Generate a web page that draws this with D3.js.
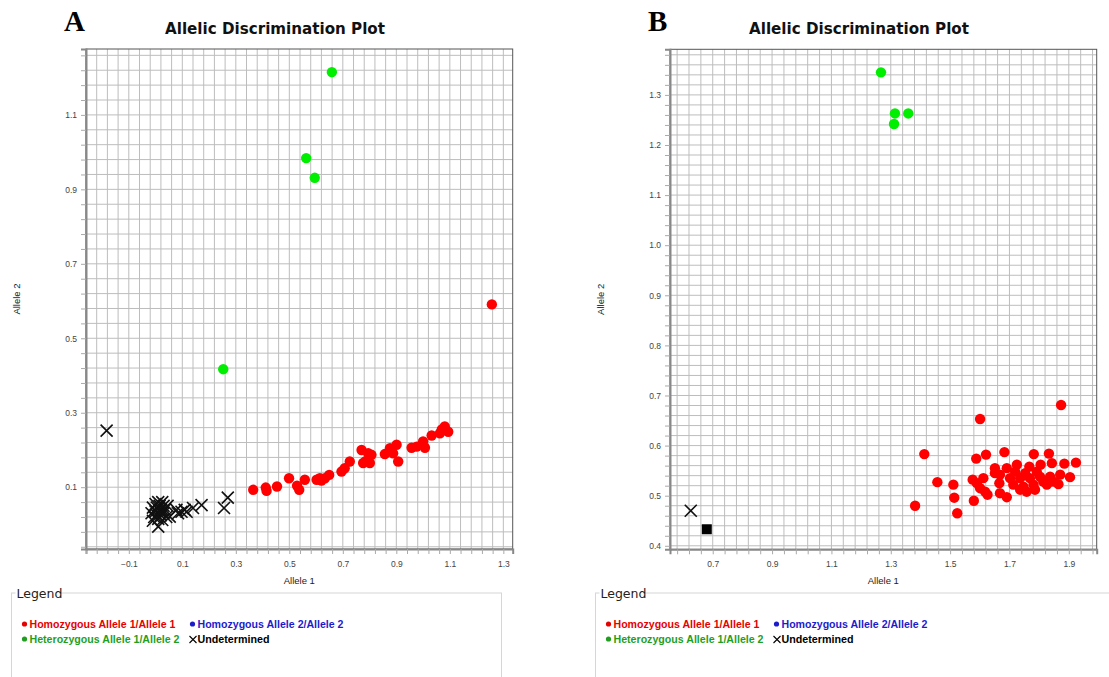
<!DOCTYPE html>
<html>
<head>
<meta charset="utf-8">
<title>Allelic Discrimination Plot</title>
<script src="https://d3js.org/d3.v7.min.js"></script>
<style>
  body { margin: 0; background: #fff; }
  .tick text { font-family: "Liberation Sans", Arial, sans-serif; font-size: 8.5px; fill: #444; }
  .axis-title { font-family: "Liberation Sans", Arial, sans-serif; font-size: 9.5px; fill: #222; }
  .plot-title { font-family: "DejaVu Sans", sans-serif; font-weight: bold; font-size: 16px; fill: #111; }
  .panel-letter { font-family: "Liberation Serif", "Times New Roman", serif; font-weight: bold; font-size: 29px; fill: #000; }
  .legend-title { font-family: "DejaVu Sans", sans-serif; font-size: 12.5px; fill: #222; }
  .legend-item { font-family: "Liberation Sans", Arial, sans-serif; font-weight: bold; font-size: 10.5px; }
</style>
</head>
<body>
<div id="chart"></div>
<script>
// ---- data ----
// panel A
const aHomo1 = [[0.365,0.093],[0.412,0.099],[0.415,0.090],[0.454,0.102],[0.499,0.124],[0.529,0.104],
  [0.537,0.093],[0.558,0.120],[0.602,0.120],[0.614,0.124],[0.620,0.118],[0.633,0.124],[0.649,0.133],
  [0.695,0.142],[0.707,0.151],[0.726,0.169],[0.770,0.200],[0.776,0.165],[0.785,0.170],[0.795,0.191],
  [0.801,0.165],[0.807,0.187],[0.857,0.189],[0.876,0.205],[0.880,0.198],[0.888,0.191],[0.901,0.214],
  [0.907,0.169],[0.957,0.206],[0.976,0.209],[1.000,0.223],[1.007,0.206],[1.032,0.239],[1.063,0.245],
  [1.070,0.255],[1.081,0.263],[1.094,0.249],[1.257,0.591]];
const aHetero = [[0.659,1.215],[0.563,0.984],[0.595,0.931],[0.253,0.417]];
const aUndet = [[-0.183,0.252],[0.270,0.072],[0.256,0.044],[0.172,0.052],[0.140,0.044],[0.109,0.039],
  [0.097,0.034],[0.078,0.039],[0.084,0.030],[0.116,0.034],[0.053,0.021],[0.010,-0.006],
  [-0.015,0.030],[-0.010,0.045],[-0.005,0.020],[0.000,0.035],[0.000,0.055],[0.005,0.025],
  [0.005,0.045],[0.010,0.015],[0.010,0.060],[0.015,0.035],[0.015,0.050],[0.020,0.025],
  [0.020,0.040],[0.025,0.060],[0.030,0.030],[0.030,0.050],[0.035,0.040],[0.040,0.020],
  [0.045,0.050],[-0.010,0.010],[0.025,0.012]];
const aXTicks = [-0.1, 0.1, 0.3, 0.5, 0.7, 0.9, 1.1, 1.3];
const aYTicks = [0.1, 0.3, 0.5, 0.7, 0.9, 1.1];

// panel B
const bHomo1 = [[1.874,0.681],[1.601,0.653],[1.413,0.583],[1.588,0.574],[1.621,0.582],[1.683,0.587],
  [1.782,0.583],[1.833,0.584],[1.843,0.565],[1.885,0.564],[1.924,0.566],[1.904,0.537],[1.457,0.527],
  [1.511,0.522],[1.514,0.496],[1.524,0.465],[1.382,0.480],[1.580,0.490],[1.576,0.532],[1.612,0.535],
  [1.601,0.515],[1.626,0.502],[1.666,0.525],[1.668,0.505],[1.691,0.497],[1.651,0.555],[1.651,0.545],
  [1.691,0.555],[1.725,0.562],[1.767,0.558],[1.805,0.562],[1.702,0.535],[1.736,0.535],[1.769,0.535],
  [1.803,0.538],[1.837,0.538],[1.871,0.542],[1.713,0.522],[1.747,0.518],[1.781,0.522],[1.814,0.528],
  [1.848,0.528],[1.865,0.523],[1.736,0.512],[1.758,0.508],[1.786,0.512],[1.826,0.522],[1.590,0.525],
  [1.618,0.508],[1.668,0.542],[1.719,0.548],[1.753,0.545],[1.792,0.548]];
const bHetero = [[1.267,1.345],[1.314,1.263],[1.359,1.263],[1.311,1.242]];
const bUndet = [[0.626,0.470]];
const bNoAmp = [[0.680,0.433]];
const bXTicks = [0.7, 0.9, 1.1, 1.3, 1.5, 1.7, 1.9];
const bYTicks = [0.4, 0.5, 0.6, 0.7, 0.8, 0.9, 1.0, 1.1, 1.2, 1.3];

const legendLabels = ["Homozygous Allele 1/Allele 1", "Homozygous Allele 2/Allele 2",
  "Heterozygous Allele 1/Allele 2", "Undetermined"];
const legendColors = ["#e60000", "#1c1ccc", "#1f9e1f", "#000"];

const W = 1109, H = 677;
const svg = d3.select("#chart").append("svg").attr("width", W).attr("height", H);

const xMark = "M-6,-6L6,6M-6,6L6,-6";

function gridValues(start, step, lo, hi) {
  const out = [];
  let k = Math.ceil((lo - start) / step - 1e-9);
  for (; start + k * step <= hi + 1e-9; k++) out.push(+(start + k * step).toFixed(4));
  return out;
}

function drawPanel(p) {
  const x = d3.scaleLinear().domain(p.xDomain).range([p.left, p.right]);
  const y = d3.scaleLinear().domain(p.yDomain).range([p.bottom, p.top]);
  const g = svg.append("g");

  const gx = gridValues(p.xGridStart, p.xGridStep, p.xDomain[0], p.xDomain[1]);
  const gy = gridValues(p.yGridStart, p.yGridStep, p.yDomain[0], p.yDomain[1]);

  // grid
  g.append("g").selectAll("line").data(gx).join("line")
    .attr("x1", d => x(d)).attr("x2", d => x(d))
    .attr("y1", p.top).attr("y2", p.bottom)
    .attr("stroke", "#bdbdbd").attr("stroke-width", 1);
  g.append("g").selectAll("line").data(gy).join("line")
    .attr("y1", d => y(d)).attr("y2", d => y(d))
    .attr("x1", p.left).attr("x2", p.right)
    .attr("stroke", "#bdbdbd").attr("stroke-width", 1);

  // frame
  g.append("rect").attr("x", p.left).attr("y", p.top)
    .attr("width", p.right - p.left).attr("height", p.bottom - p.top)
    .attr("fill", "none").attr("stroke", "#555").attr("stroke-width", 1);

  // minor ticks
  g.append("g").attr("transform", `translate(0,${p.bottom})`)
    .call(d3.axisBottom(x).tickValues(gx).tickSize(5).tickFormat(""))
    .call(s => s.select(".domain").attr("stroke", "#888").attr("stroke-width", 2))
    .call(s => s.selectAll(".tick line").attr("stroke", "#aaa"));
  g.append("g").attr("transform", `translate(${p.left},0)`)
    .call(d3.axisLeft(y).tickValues(gy).tickSize(5).tickFormat(""))
    .call(s => s.select(".domain").attr("stroke", "#888").attr("stroke-width", 2))
    .call(s => s.selectAll(".tick line").attr("stroke", "#aaa"));

  // labelled ticks
  g.append("g").attr("transform", `translate(0,${p.bottom})`)
    .call(d3.axisBottom(x).tickValues(p.xTicks).tickSize(0).tickPadding(12).tickFormat(d3.format(".1f")))
    .call(s => s.select(".domain").remove());
  g.append("g").attr("transform", `translate(${p.left},0)`)
    .call(d3.axisLeft(y).tickValues(p.yTicks).tickSize(0).tickPadding(9).tickFormat(d3.format(".1f")))
    .call(s => s.select(".domain").remove());

  // axis titles
  g.append("text").attr("class", "axis-title").attr("text-anchor", "middle")
    .attr("x", (p.left + p.right) / 2).attr("y", p.bottom + 35).text("Allele 1");
  g.append("text").attr("class", "axis-title").attr("text-anchor", "middle")
    .attr("transform", `translate(${p.left - 66},${(p.top + p.bottom) / 2}) rotate(-90)`).text("Allele 2");

  // plot title + panel letter
  g.append("text").attr("class", "plot-title").attr("text-anchor", "middle")
    .attr("x", p.titleX).attr("y", 34)
    .attr("textLength", 220).attr("lengthAdjust", "spacingAndGlyphs")
    .text("Allelic Discrimination Plot");
  g.append("text").attr("class", "panel-letter").attr("x", p.left - 22).attr("y", 31).text(p.letter);

  // marks
  const marks = g.append("g");
  marks.selectAll("circle.homo1").data(p.homo1).join("circle").attr("class", "homo1")
    .attr("cx", d => x(d[0])).attr("cy", d => y(d[1])).attr("r", 5.2).attr("fill", "#ff0000");
  marks.selectAll("circle.het").data(p.hetero).join("circle").attr("class", "het")
    .attr("cx", d => x(d[0])).attr("cy", d => y(d[1])).attr("r", 5.2).attr("fill", "#00ee00");
  marks.selectAll("rect.noamp").data(p.noAmp || []).join("rect").attr("class", "noamp")
    .attr("x", d => x(d[0]) - 5).attr("y", d => y(d[1]) - 5).attr("width", 10).attr("height", 10)
    .attr("fill", "#000");
  marks.selectAll("path.und").data(p.undet).join("path").attr("class", "und")
    .attr("transform", d => `translate(${x(d[0])},${y(d[1])})`)
    .attr("d", xMark).attr("stroke", "#111").attr("stroke-width", 1.6).attr("fill", "none");

  // legend box
  const L = g.append("g").attr("transform", `translate(${p.legendX},593)`);
  L.append("rect").attr("x", 0).attr("y", 0).attr("width", p.legendW).attr("height", 120)
    .attr("fill", "none").attr("stroke", "#d6d6d6");
  L.append("rect").attr("x", 4).attr("y", -8).attr("width", 44).attr("height", 14).attr("fill", "#fff");
  L.append("text").attr("class", "legend-title").attr("x", 5).attr("y", 5).text("Legend");

  const pos = [[13, 34], [181, 34], [13, 49], [181, 49]];
  const widths = [146, 146, 150, 72];
  legendLabels.forEach((lab, i) => {
    const [lx, ly] = pos[i];
    if (i < 3) {
      L.append("circle").attr("cx", lx).attr("cy", ly - 3).attr("r", 2.6).attr("fill", legendColors[i]);
    } else {
      L.append("path").attr("transform", `translate(${lx + 0.5},${ly - 2.5})`)
        .attr("d", "M-3.5,-3.5L3.5,3.5M-3.5,3.5L3.5,-3.5").attr("stroke", "#000").attr("stroke-width", 1.1);
    }
    L.append("text").attr("class", "legend-item").attr("x", lx + 5).attr("y", ly + 1)
      .attr("fill", legendColors[i])
      .attr("textLength", widths[i]).attr("lengthAdjust", "spacingAndGlyphs")
      .text(lab);
  });
}

drawPanel({
  letter: "A", titleX: 275,
  left: 86, right: 512.7, top: 49, bottom: 549,
  xDomain: [-0.26, 1.335], yDomain: [-0.066, 1.277],
  xGridStart: -0.1, xGridStep: 0.04, yGridStart: 0.1, yGridStep: 0.04,
  xTicks: aXTicks, yTicks: aYTicks,
  homo1: aHomo1, hetero: aHetero, undet: aUndet,
  legendX: 11.5, legendW: 490
});

drawPanel({
  letter: "B", titleX: 859,
  left: 670, right: 1096.7, top: 49.3, bottom: 549.3,
  xDomain: [0.556, 1.994], yDomain: [0.393, 1.391],
  xGridStart: 0.7, xGridStep: 0.04, yGridStart: 0.4, yGridStep: 0.02,
  xTicks: bXTicks, yTicks: bYTicks,
  homo1: bHomo1, hetero: bHetero, undet: bUndet, noAmp: bNoAmp,
  legendX: 595.5, legendW: 530
});
</script>
</body>
</html>
